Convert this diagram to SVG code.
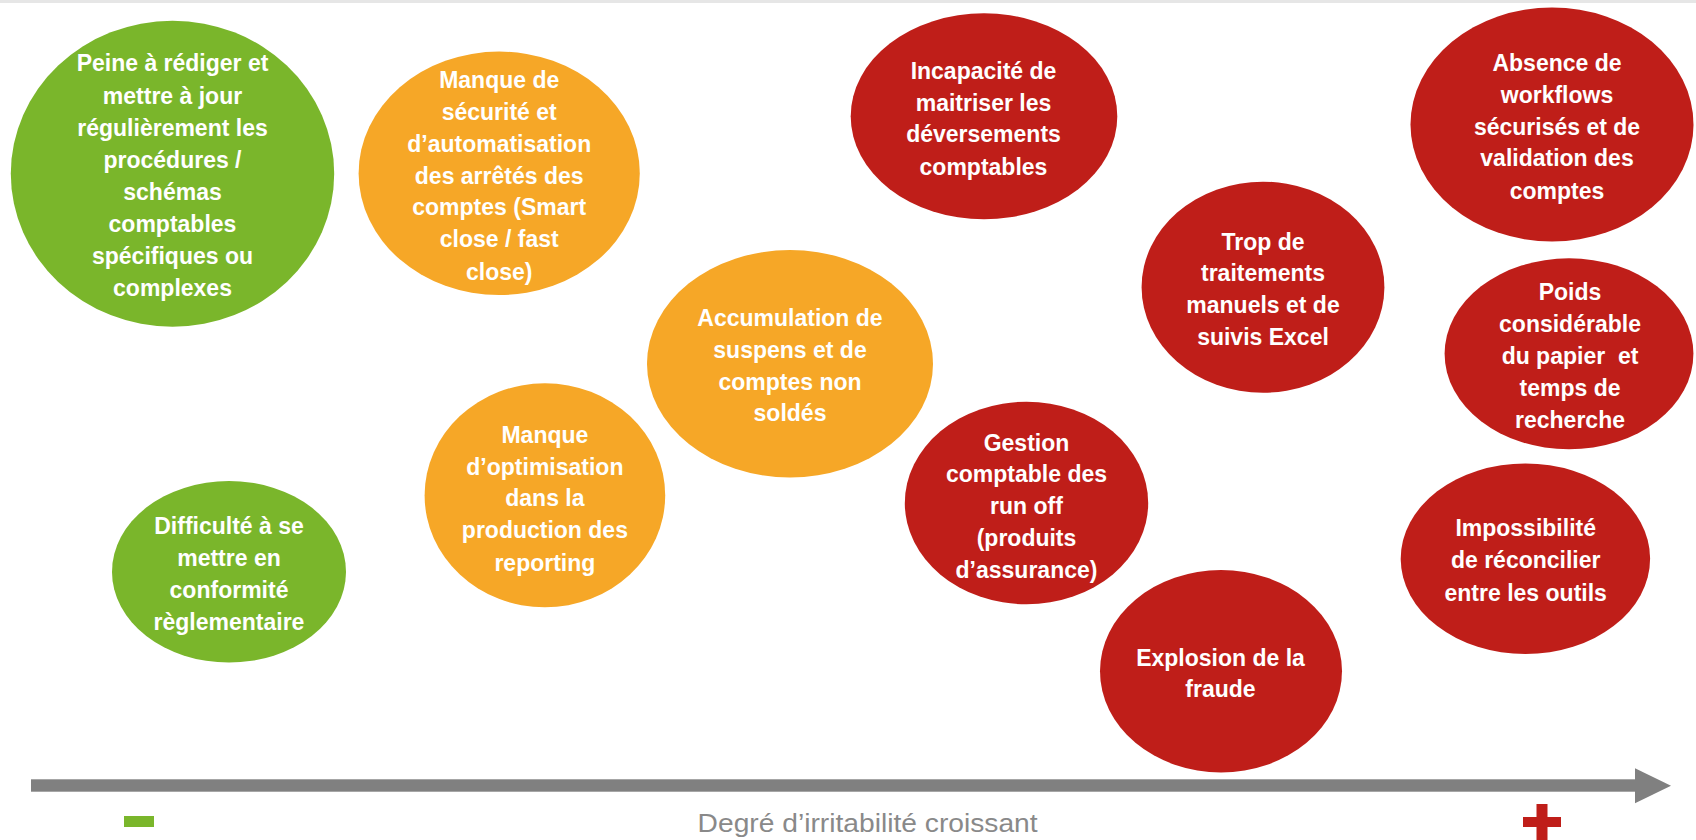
<svg xmlns="http://www.w3.org/2000/svg" width="1696" height="840" viewBox="0 0 1696 840">
<style>
.g{fill:#7AB62B}.o{fill:#F6A727}.r{fill:#BF1E19}
.t{font-family:"Liberation Sans",Arial,sans-serif;font-weight:bold;font-size:23px;fill:#fff;text-anchor:middle}
.ax{font-family:"Liberation Sans",Arial,sans-serif;font-size:26px;fill:#898989}
</style>
<rect width="1696" height="840" fill="#fff"/>
<rect x="0" y="0" width="1696" height="3" fill="#e6e6e6"/>
<g id="n1"><ellipse class="g" cx="172.5" cy="173.7" rx="161.7" ry="153"/>
<text class="t"><tspan x="172.5" y="71">Peine à rédiger et</tspan><tspan x="172.5" y="103.5">mettre à jour</tspan><tspan x="172.5" y="135.5">régulièrement les</tspan><tspan x="172.5" y="168">procédures /</tspan><tspan x="172.5" y="199.5">schémas</tspan><tspan x="172.5" y="231.5">comptables</tspan><tspan x="172.5" y="263.5">spécifiques ou</tspan><tspan x="172.5" y="295.5">complexes</tspan></text></g>
<g id="n2"><ellipse class="g" cx="229" cy="571.8" rx="117" ry="90.8"/>
<text class="t"><tspan x="229" y="534">Difficulté à se</tspan><tspan x="229" y="566.3">mettre en</tspan><tspan x="229" y="598">conformité</tspan><tspan x="229" y="629.7">règlementaire</tspan></text></g>
<g id="n3"><ellipse class="o" cx="499.2" cy="173.3" rx="140.6" ry="121.7"/>
<text class="t"><tspan x="499.2" y="88">Manque de</tspan><tspan x="499.2" y="119.7">sécurité et</tspan><tspan x="499.2" y="152">d’automatisation</tspan><tspan x="499.2" y="183.7">des arrêtés des</tspan><tspan x="499.2" y="215.3">comptes (Smart</tspan><tspan x="499.2" y="247.3">close / fast</tspan><tspan x="499.2" y="279.7">close)</tspan></text></g>
<g id="n4"><ellipse class="o" cx="544.9" cy="495.3" rx="120.3" ry="112"/>
<text class="t"><tspan x="544.9" y="443">Manque</tspan><tspan x="544.9" y="474.7">d’optimisation</tspan><tspan x="544.9" y="506.3">dans la</tspan><tspan x="544.9" y="538">production des</tspan><tspan x="544.9" y="570.7">reporting</tspan></text></g>
<g id="n5"><ellipse class="o" cx="790" cy="363.7" rx="143" ry="113.7"/>
<text class="t"><tspan x="790" y="326.3">Accumulation de</tspan><tspan x="790" y="358">suspens et de</tspan><tspan x="790" y="389.7">comptes non</tspan><tspan x="790" y="421.3">soldés</tspan></text></g>
<g id="n6"><ellipse class="r" cx="984" cy="116.3" rx="133.3" ry="103"/>
<text class="t"><tspan x="983.5" y="78.7">Incapacité de</tspan><tspan x="983.5" y="110.7">maitriser les</tspan><tspan x="983.5" y="142.3">déversements</tspan><tspan x="983.5" y="174.7">comptables</tspan></text></g>
<g id="n7"><ellipse class="r" cx="1026.5" cy="503" rx="121.7" ry="101.3"/>
<text class="t"><tspan x="1026.5" y="450.7">Gestion</tspan><tspan x="1026.5" y="482.3">comptable des</tspan><tspan x="1026.5" y="514">run off</tspan><tspan x="1026.5" y="546.3">(produits</tspan><tspan x="1026.5" y="578">d’assurance)</tspan></text></g>
<g id="n8"><ellipse class="r" cx="1263" cy="287.2" rx="121.4" ry="105.5"/>
<text class="t"><tspan x="1263" y="249.7">Trop de</tspan><tspan x="1263" y="281.3">traitements</tspan><tspan x="1263" y="313">manuels et de</tspan><tspan x="1263" y="345.3">suivis Excel</tspan></text></g>
<g id="n9"><ellipse class="r" cx="1221" cy="671.2" rx="121" ry="101.2"/>
<text class="t"><tspan x="1220.5" y="665.7">Explosion de la</tspan><tspan x="1220.5" y="697.3">fraude</tspan></text></g>
<g id="n10"><ellipse class="r" cx="1552" cy="124.5" rx="141.5" ry="117"/>
<text class="t"><tspan x="1557" y="71.3">Absence de</tspan><tspan x="1557" y="103">workflows</tspan><tspan x="1557" y="134.7">sécurisés et de</tspan><tspan x="1557" y="166.3">validation des</tspan><tspan x="1557" y="199">comptes</tspan></text></g>
<g id="n11"><ellipse class="r" cx="1569" cy="353.8" rx="124.4" ry="95.5"/>
<text class="t"><tspan x="1570" y="299.7">Poids</tspan><tspan x="1570" y="332">considérable</tspan><tspan x="1570" y="364" xml:space="preserve">du papier  et</tspan><tspan x="1570" y="396.3">temps de</tspan><tspan x="1570" y="428.3">recherche</tspan></text></g>
<g id="n12"><ellipse class="r" cx="1525.4" cy="558.7" rx="124.7" ry="95.3"/>
<text class="t"><tspan x="1525.7" y="536.3">Impossibilité</tspan><tspan x="1525.7" y="568">de réconcilier</tspan><tspan x="1525.7" y="600.7">entre les outils</tspan></text></g>
<g id="axis">
<rect x="31" y="779.3" width="1605" height="12.4" fill="#808080"/>
<polygon points="1635,768.3 1671,785.7 1635,803.3" fill="#808080"/>
<rect x="124" y="816" width="30" height="11" fill="#7AB62B"/>
<rect x="1536.5" y="804" width="11" height="40" fill="#BF1E19"/>
<rect x="1523" y="817" width="38" height="10" fill="#BF1E19"/>
<text class="ax" x="697.6" y="831.7" textLength="340" lengthAdjust="spacingAndGlyphs">Degré d’irritabilité croissant</text>
</g>
</svg>
